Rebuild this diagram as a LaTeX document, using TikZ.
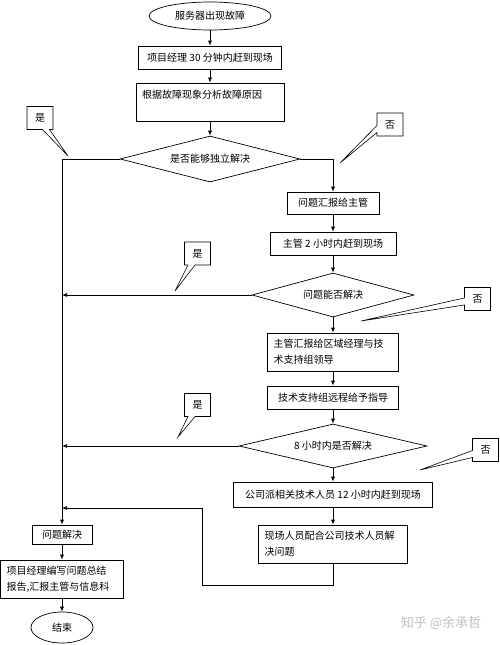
\documentclass[tikz,border=0pt]{standalone}
\usepackage{fontspec}
\setmainfont{Noto Sans CJK SC}
\usetikzlibrary{arrows.meta,shapes.geometric,shapes.callouts}
\tikzset{
	proc/.style={draw, rectangle, line width=0.7pt, inner xsep=6pt, inner ysep=2pt, font=\fontsize{10}{16}\selectfont},
	decide/.style={draw, diamond, aspect=4, inner sep=0pt, line width=0.7pt, font=\fontsize{10}{16}\selectfont},
	term/.style={draw, ellipse, inner sep=0pt, line width=0.7pt, font=\fontsize{10}{16}\selectfont},
	tag/.style={draw, rectangle callout, callout pointer width=7pt, line width=0.6pt, minimum width=26pt, minimum height=23pt, inner sep=0pt, font=\fontsize{10}{16}\selectfont},
	arr/.style={line width=0.7pt, -{Latex[length=5pt,width=4pt]}}
}

\begin{document}
\begin{tikzpicture}[x=1pt, y=-1pt]
			%%%%% START %%%%%
			\useasboundingbox (0,0) rectangle (500,645);
			
			% main column
			\node[term, minimum width=122pt, minimum height=28pt] (start) at (210,16) {服务器出现故障};
			\node[proc, minimum width=143pt, minimum height=23pt] (arrive) at (210,57.5) {项目经理 30 分钟内赶到现场};
			\node[proc, text width=136pt, minimum height=38pt, align=left] (analyse) at (210,102) {根据故障现象分析故障原因\\~};
			\node[decide, minimum width=180pt, minimum height=46pt] (self) at (210,159) {是否能够独立解决};
			
			% right column
			\node[proc, minimum width=92pt, minimum height=22pt] (report) at (333,203) {问题汇报给主管};
			\node[proc, minimum width=126pt, minimum height=23pt] (chief) at (333,243.5) {主管 2 小时内赶到现场};
			\node[decide, minimum width=162pt, minimum height=44pt] (chiefok) at (333,295) {问题能否解决};
			\node[proc, text width=119pt, minimum height=38pt, align=left] (region) at (333,352) {主管汇报给区域经理与技\\术支持组领导};
			\node[proc, minimum width=131pt, minimum height=23pt] (remote) at (333,397.5) {技术支持组远程给予指导};
			\node[decide, minimum width=188pt, minimum height=44pt] (eight) at (333,446) {8 小时内是否解决};
			\node[proc, minimum width=199pt, minimum height=25pt] (company) at (333,494.5) {公司派相关技术人员 12 小时内赶到现场};
			\node[proc, text width=137pt, minimum height=38pt, align=left] (onsite) at (333,544) {现场人员配合公司技术人员解\\决问题};
			
			% left column
			\node[proc, minimum width=60pt, minimum height=19pt] (solved) at (62,534.5) {问题解决};
			\node[proc, text width=111pt, minimum height=38pt, align=left] (summary) at (62,579) {项目经理编写问题总结\\报告,汇报主管与信息科};
			\node[term, minimum width=62pt, minimum height=31pt] (finish) at (62,627.5) {结束};
			
			% connectors
			\draw[arr] (start.south) -- (arrive.north);
			\draw[arr] (arrive.south) -- (analyse.north);
			\draw[arr] (analyse.south) -- (self.north);
			\draw[arr] (self.west) -| (solved.north);
			\draw[arr] (self.east) -| (report.north);
			\draw[arr] (report.south) -- (chief.north);
			\draw[arr] (chief.south) -- (chiefok.north);
			\draw[arr] (chiefok.west) -- (chiefok.west -| solved.north);
			\draw[arr] (chiefok.south) -- (region.north);
			\draw[arr] (region.south) -- (remote.north);
			\draw[arr] (remote.south) -- (eight.north);
			\draw[arr] (eight.west) -- (eight.west -| solved.north);
			\draw[arr] (eight.south) -- (company.north);
			\draw[arr] (company.south) -- (onsite.north);
			\coordinate (turn) at (202,585);
			\coordinate (join) at (62,508);
			\draw[arr] (onsite.south) |- (turn) |- (join);
			\draw[arr] (solved.south) -- (summary.north);
			\draw[arr] (summary.south) -- (finish.north);
			
			% yes / no tags
			\coordinate (yes1tip) at (68,156);
			\coordinate (no1tip) at (340,163);
			\coordinate (yes2tip) at (175,291);
			\coordinate (no2tip) at (361,321);
			\coordinate (yes3tip) at (178,437);
			\coordinate (no3tip) at (420,470);
			\node[tag, callout absolute pointer={(yes1tip)}] (yes1) at (40,118) {是};
			\node[tag, callout absolute pointer={(no1tip)}] (no1) at (390,124.5) {否};
			\node[tag, callout absolute pointer={(yes2tip)}] (yes2) at (197.5,253.5) {是};
			\node[tag, callout absolute pointer={(no2tip)}] (no2) at (477.5,299) {否};
			\node[tag, callout absolute pointer={(yes3tip)}] (yes3) at (197.5,405) {是};
			\node[tag, callout absolute pointer={(no3tip)}] (no3) at (485.5,450) {否};
			
			\node[text=black!25, font=\fontsize{13}{13}\selectfont] (mark) at (441,623) {知乎 @余承哲};
			
			%%%%% END %%%%%
		\end{tikzpicture}
\end{document}
